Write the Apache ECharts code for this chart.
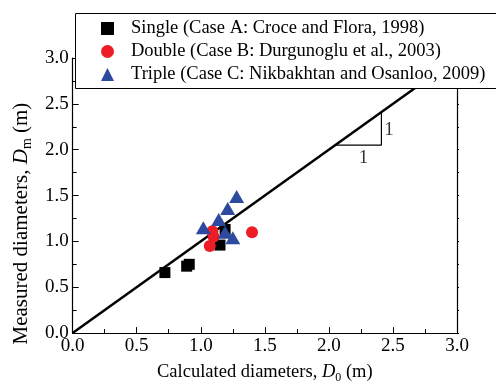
<!DOCTYPE html>
<html>
<head>
<meta charset="utf-8">
<script src="https://cdn.jsdelivr.net/npm/echarts@6/dist/echarts.min.js"></script>
<style>html,body{margin:0;padding:0;background:#fff}#c{width:496px;height:389px}</style>
</head>
<body>
<div id="c"></div>
<script>
// Data
var singleX = [0.72, 0.89, 0.91, 1.15, 1.19];
var singleY = [0.66, 0.73, 0.75, 0.96, 1.13];
var doubleX = [1.07, 1.10, 1.09, 1.40];
var doubleY = [0.95, 1.05, 1.11, 1.10];
var tripleX = [1.28, 1.21, 1.14, 1.02, 1.19, 1.25];
var tripleY = [1.49, 1.36, 1.24, 1.15, 1.10, 1.04];
var seriesNames = ['Single (Case A: Croce and Flora, 1998)', 'Double (Case B: Durgunoglu et al., 2003)', 'Triple (Case C: Nikbakhtan and Osanloo, 2009)'];
var lineX = [0, 3];
var lineY = [0, 3];
var slopeX = [2.05, 2.41, 2.41];
var slopeY = [2.05, 2.05, 2.41];
var slopeLabelX = [2.47, 2.27];
var slopeLabelY = [2.22, 1.91];
var slopeLabelText = ['1', '1'];

function zip(a, b) { return a.map(function (v, i) { return [v, b[i]]; }); }

var FONT = 'Liberation Serif';
var chart = echarts.init(document.getElementById('c'), null, { renderer: 'canvas' });
var axisCommon = {
  min: 0, max: 3, interval: 0.5,
  axisLine: { show: true, lineStyle: { color: '#000', width: 1.2 } },
  axisTick: { show: true, inside: true, length: 6, lineStyle: { color: '#000', width: 1 } },
  minorTick: { show: true, splitNumber: 2, length: 4, lineStyle: { color: '#000', width: 1 } },
  splitLine: { show: false },
  axisLabel: { color: '#000', fontFamily: FONT, fontSize: 19, formatter: function (v) { return v.toFixed(1); } }
};
function nameStyle(size, lh, subPad) {
  return {
    color: '#000', fontFamily: FONT, fontSize: size, lineHeight: lh,
    rich: {
      n: { fontFamily: FONT, fontSize: size, lineHeight: lh, color: '#000' },
      i: { fontFamily: FONT, fontSize: size, lineHeight: lh, fontStyle: 'italic', color: '#000' },
      s: { fontFamily: FONT, fontSize: Math.round(size * 0.66), lineHeight: lh, verticalAlign: 'bottom', padding: [subPad, 0, 0, 0], color: '#000' }
    }
  };
}
var xName = nameStyle(18.5, 24, 10);
var yName = nameStyle(21, 26, 11);
yName.padding = [0, 56, 0, 0];
var option = {
  animation: false,
  backgroundColor: '#fff',
  grid: { left: 71.5, right: 39, top: 58, bottom: 49, containLabel: false },
  graphic: [{
    type: 'rect', z: 3, silent: true,
    shape: { x: 75.5, y: 13.5, width: 440, height: 75 },
    style: { fill: '#fff', stroke: '#000', lineWidth: 1 }
  }],
  xAxis: [Object.assign({}, axisCommon, {
    type: 'value', position: 'bottom',
    axisLabel: Object.assign({}, axisCommon.axisLabel, { margin: 3 }),
    name: '{n|Calculated diameters, }{i|D}{s|0}{n| (m)}',
    nameLocation: 'middle', nameGap: 25,
    nameTextStyle: xName
  })],
  yAxis: [Object.assign({}, axisCommon, {
    type: 'value', position: 'left',
    axisLabel: Object.assign({}, axisCommon.axisLabel, { margin: 4 }),
    name: '{n|Measured diameters, }{i|D}{s|m}{n| (m)}',
    nameLocation: 'middle', nameGap: 31, nameRotate: 90,
    nameTextStyle: yName
  }), {
    type: 'value', position: 'right', min: 0, max: 3, interval: 0.5,
    axisLine: { show: true, lineStyle: { color: '#000', width: 1.2 } },
    axisTick: { show: true, inside: false, length: 2, lineStyle: { color: '#000' } },
    minorTick: { show: true, splitNumber: 2, length: 2, lineStyle: { color: '#000' } },
    axisLabel: { show: false }, splitLine: { show: false }
  }],
  legend: {
    orient: 'vertical', left: 75, top: 13, z: 10,
    padding: [6, 10, 6, 26],
    backgroundColor: 'transparent', borderWidth: 0,
    itemWidth: 13, itemHeight: 13, itemGap: 4,
    textStyle: { color: '#000', fontFamily: FONT, fontSize: 18.5, lineHeight: 19, padding: [0, 0, 0, 12] },
    data: seriesNames
  },
  series: [
    { type: 'line', data: zip(lineX, lineY), symbol: 'none', lineStyle: { color: '#000', width: 2.5 }, silent: true, z: 1 },
    { type: 'line', data: zip(slopeX, slopeY), symbol: 'none', lineStyle: { color: '#000', width: 1.2 }, silent: true, z: 1 },
    { type: 'scatter', data: zip(slopeLabelX, slopeLabelY).map(function (p, i) { return { value: p, name: slopeLabelText[i] }; }),
      symbolSize: 0, label: { show: true, position: 'inside', formatter: '{b}', color: '#000', fontFamily: FONT, fontSize: 19 }, silent: true },
    { name: seriesNames[0], type: 'scatter', data: zip(singleX, singleY), symbol: 'rect', symbolSize: 11, itemStyle: { color: '#000', opacity: 1 }, z: 3 },
    { name: seriesNames[1], type: 'scatter', data: zip(doubleX, doubleY), symbol: 'circle', symbolSize: 12, itemStyle: { color: '#ee1c25', opacity: 1 }, z: 4 },
    { name: seriesNames[2], type: 'scatter', data: zip(tripleX, tripleY), symbol: 'triangle', symbolSize: [15, 13], itemStyle: { color: '#2e4a9e', opacity: 1 }, z: 5 }
  ]
};
chart.setOption(option);
</script>
</body>
</html>
